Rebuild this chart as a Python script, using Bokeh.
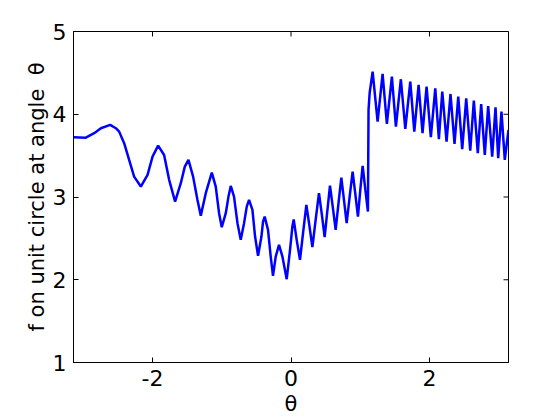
import numpy as np
from bokeh.plotting import figure
from bokeh.models import Range1d, FixedTicker, ColumnDataSource
from bokeh.embed import file_html
from bokeh.resources import INLINE

# values (theta, f)
theta = [
    -np.pi, -2.963, -2.843, -2.746, -2.612, -2.530, -2.482, -2.410, -2.338, -2.266,
    -2.169, -2.072, -2.000, -1.919, -1.833, -1.760, -1.674, -1.592, -1.534, -1.481,
    -1.414, -1.351, -1.303, -1.231, -1.144, -1.087, -1.039, -1.000, -0.942, -0.903,
    -0.870, -0.823, -0.773, -0.726, -0.678, -0.639, -0.606, -0.557, -0.519, -0.476,
    -0.427, -0.404, -0.380, -0.332, -0.293, -0.260, -0.221, -0.173, -0.124, -0.062,
    -0.014, 0.020, 0.039, 0.082, 0.130, 0.176, 0.222, 0.266, 0.309, 0.356,
    0.404, 0.446, 0.486, 0.525, 0.563, 0.605, 0.645, 0.685, 0.727, 0.765,
    0.804, 0.847, 0.890, 0.929, 0.967, 1.001, 1.035, 1.074, 1.111, 1.120,
    1.136, 1.179, 1.251, 1.323, 1.385, 1.457, 1.515, 1.587, 1.651, 1.723,
    1.781, 1.843, 1.900, 1.958, 2.020, 2.084, 2.136, 2.185, 2.247, 2.304,
    2.362, 2.416, 2.473, 2.531, 2.589, 2.641, 2.698, 2.747, 2.799, 2.848,
    2.906, 2.954, 2.993, 3.040, 3.088, np.pi,
]
f_vals = [
    3.722, 3.717, 3.771, 3.831, 3.871, 3.831, 3.790, 3.650, 3.448, 3.246,
    3.126, 3.267, 3.488, 3.621, 3.508, 3.207, 2.944, 3.167, 3.367, 3.448,
    3.246, 2.965, 2.775, 3.046, 3.295, 3.126, 2.804, 2.635, 2.804, 3.005,
    3.134, 3.005, 2.684, 2.482, 2.684, 2.884, 2.965, 2.844, 2.522, 2.289,
    2.522, 2.703, 2.763, 2.603, 2.280, 2.047, 2.280, 2.421, 2.280, 2.007,
    2.361, 2.643, 2.729, 2.482, 2.240, 2.579, 2.905, 2.651, 2.394, 2.723,
    3.046, 2.784, 2.514, 2.832, 3.138, 2.868, 2.603, 2.917, 3.234, 2.965,
    2.684, 3.001, 3.307, 3.037, 2.763, 3.086, 3.376, 3.086, 2.824, 4.052,
    4.257, 4.514, 3.911, 4.487, 3.883, 4.454, 3.850, 4.423, 3.822, 4.394,
    3.790, 4.354, 3.771, 4.333, 3.722, 4.314, 3.698, 4.273, 3.669, 4.245,
    3.641, 4.213, 3.577, 4.193, 3.560, 4.164, 3.529, 4.124, 3.508, 4.100,
    3.488, 4.085, 3.469, 4.031, 3.448, 3.810,
]
x_ticks = [-2, 0, 2]
x_tick_labels = ["-2", "0", "2"]
y_ticks = [1, 2, 3, 4, 5]
x_label = "θ"
y_label = "f on unit circle at angle\u00a0 θ"
x_lim = (-np.pi, np.pi)
y_lim = (1, 5)

FONT = "DejaVu Sans"

p = figure(output_backend="svg", toolbar_location=None,
           frame_width=435, frame_height=331,
           min_border_left=73, min_border_right=40,
           min_border_top=31, min_border_bottom=44,
           x_range=Range1d(*x_lim), y_range=Range1d(*y_lim),
           background_fill_color="white", border_fill_color="white")
p.grid.visible = False
p.outline_line_color = "black"
p.outline_line_width = 1

src = ColumnDataSource(dict(x=theta, y=f_vals))
p.line("x", "y", source=src, line_color="#0000ff", line_width=2.5)

for ax, ticks in ((p.xaxis[0], x_ticks), (p.yaxis[0], y_ticks)):
    ax.ticker = FixedTicker(ticks=ticks)
    ax.major_tick_in = 5
    ax.major_tick_out = 0
    ax.minor_tick_line_color = None
    ax.major_label_text_font = FONT
    ax.major_label_text_font_size = "22px"
    ax.major_label_text_color = "black"
    ax.axis_label_text_font = FONT
    ax.axis_label_text_font_size = "21px"
    ax.axis_label_text_font_style = "normal"
    ax.axis_label_text_color = "black"
    ax.axis_line_color = "black"

p.xaxis.major_label_overrides = {t: s for t, s in zip(x_ticks, x_tick_labels)}
p.xaxis.axis_label = x_label
p.yaxis.axis_label = y_label
p.xaxis.major_label_standoff = 7
p.yaxis.major_label_standoff = 7
p.xaxis.axis_label_standoff = 3
p.yaxis.axis_label_standoff = 1

# inward ticks on the top and right edges of the box (clipped to the frame)
p.scatter(x=x_ticks, y=[y_lim[1]] * len(x_ticks), marker="dash", size=10,
          angle=np.pi / 2, line_color="black", line_width=1)
p.scatter(x=[x_lim[1]] * len(y_ticks), y=y_ticks, marker="dash", size=10,
          line_color="black", line_width=1)

open("out.html", "w").write(file_html(p, INLINE))
